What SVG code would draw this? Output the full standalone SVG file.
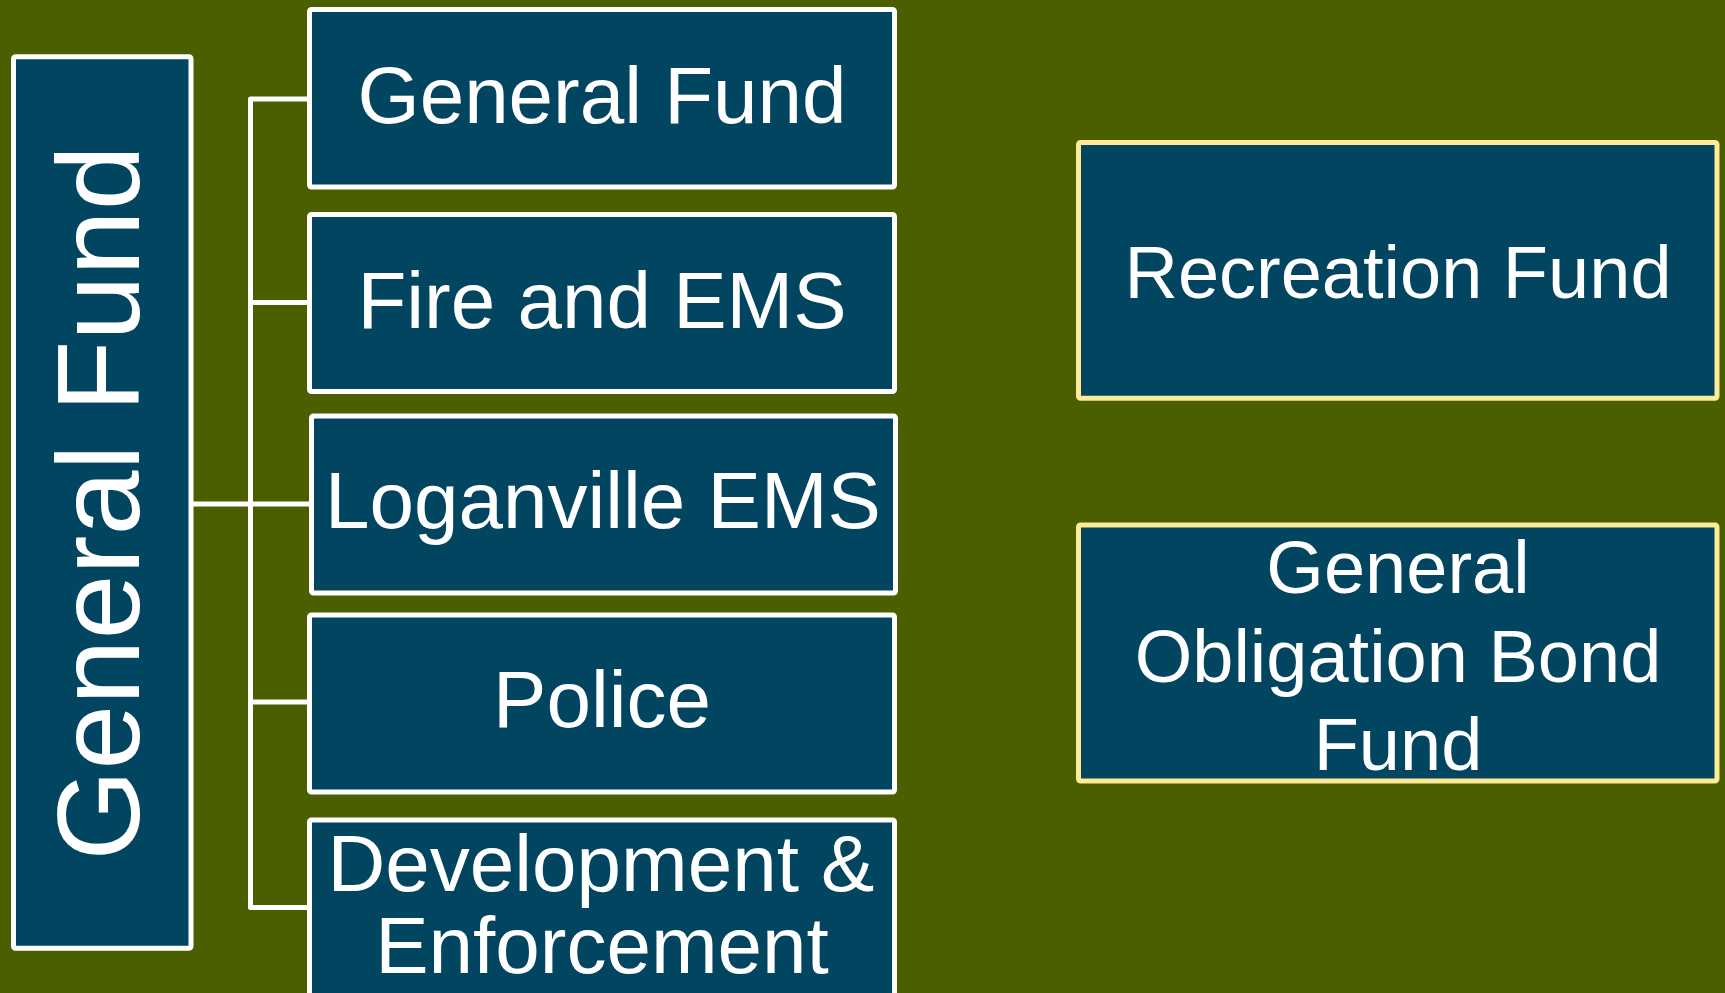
<svg xmlns="http://www.w3.org/2000/svg" width="1725" height="993" viewBox="0 0 1725 993">
  <style>
    .box { fill: #024560; stroke: #FFFFFF; stroke-width: 5; }
    .rbox { fill: #024560; stroke: #FFEA96; stroke-width: 5; }
    .conn { fill: none; stroke: #FFFFFF; stroke-width: 5; stroke-linejoin: round; }
    .lbl { font-family: "Liberation Sans", Arial, sans-serif; fill: #FFFFFF; text-anchor: middle; }
    .big { font-size: 80px; }
    .mid { font-size: 74px; }
  </style>
  <rect x="0" y="0" width="1725" height="993" fill="#4B5E00"/>

  <g id="connectors">
    <path class="conn" d="M309.5,99 H250.5 V907.5 H309.5"/>
    <line class="conn" x1="250.5" y1="302.5" x2="309.5" y2="302.5"/>
    <line class="conn" x1="191" y1="504" x2="311.5" y2="504"/>
    <line class="conn" x1="250.5" y1="702" x2="309.5" y2="702"/>
  </g>

  <g id="node-root">
    <rect class="box" x="13.5" y="56.8" width="177.5" height="891.5" rx="2"/>
    <text class="lbl" font-size="117" transform="translate(138.5,503) rotate(-90)">General Fund</text>
  </g>

  <g id="node-general-fund">
    <rect class="box" x="309.5" y="9.5" width="585" height="177.5" rx="2"/>
    <text class="lbl big" x="602" y="122.7">General Fund</text>
  </g>

  <g id="node-fire-ems">
    <rect class="box" x="309.5" y="214.5" width="585" height="177" rx="2"/>
    <text class="lbl big" x="602" y="327.5">Fire and EMS</text>
  </g>

  <g id="node-loganville-ems">
    <rect class="box" x="311.5" y="416" width="584" height="177" rx="2"/>
    <text class="lbl big" x="603" y="528">Loganville EMS</text>
  </g>

  <g id="node-police">
    <rect class="box" x="309.5" y="615" width="585" height="177" rx="2"/>
    <text class="lbl big" x="602" y="727">Police</text>
  </g>

  <g id="node-development">
    <rect class="box" x="309.5" y="820" width="585" height="200" rx="2"/>
    <text class="lbl big" x="601" y="890.7">Development &amp;</text>
    <text class="lbl big" x="602" y="973.3">Enforcement</text>
  </g>

  <g id="node-recreation-fund">
    <rect class="rbox" x="1078.5" y="142.5" width="638.5" height="255.7" rx="2"/>
    <text class="lbl mid" x="1398" y="298.3">Recreation Fund</text>
  </g>

  <g id="node-gob-fund">
    <rect class="rbox" x="1078.5" y="525" width="638.5" height="256" rx="2"/>
    <text class="lbl mid" x="1398" y="592.7">General</text>
    <text class="lbl mid" x="1398" y="681.7">Obligation Bond</text>
    <text class="lbl mid" x="1398" y="770">Fund</text>
  </g>
</svg>
